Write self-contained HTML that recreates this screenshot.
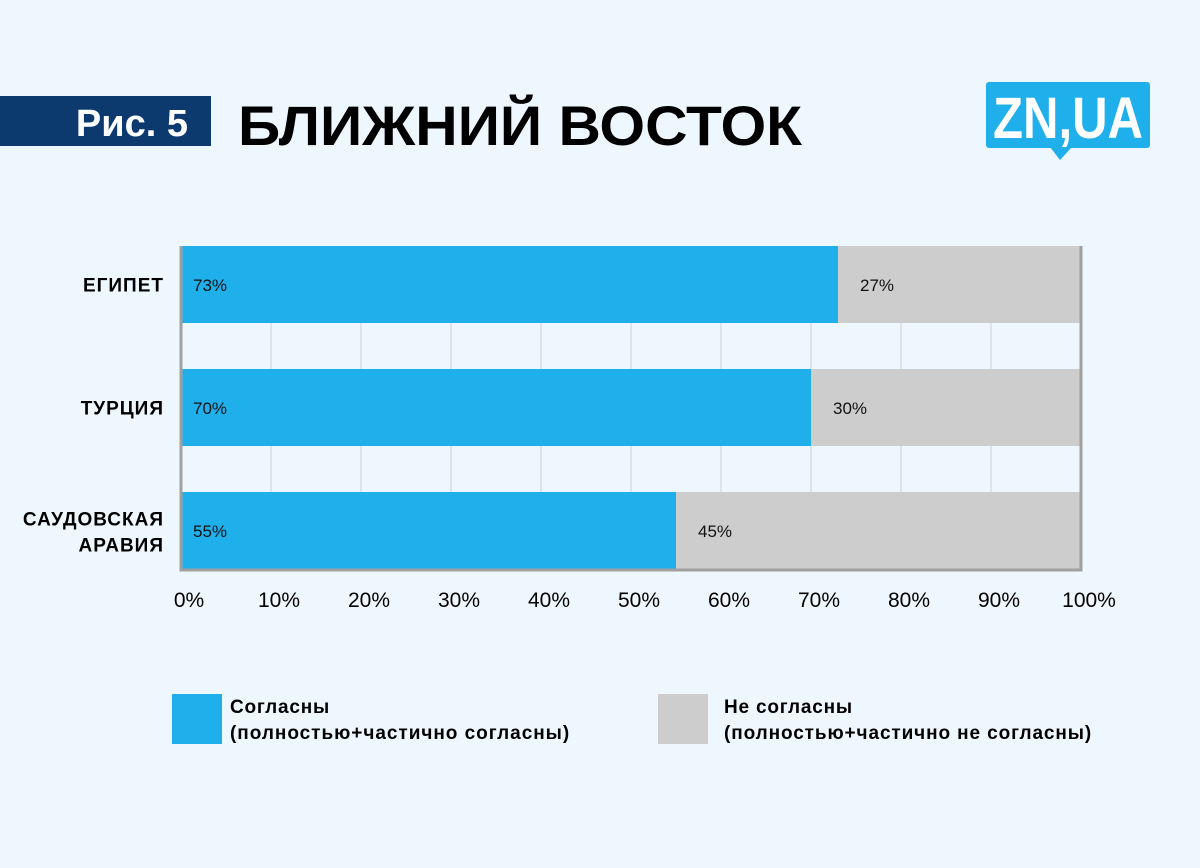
<!DOCTYPE html>
<html><head><meta charset="utf-8"><style>
body{margin:0;background:#eff7fe;font-family:"Liberation Sans","DejaVu Sans",sans-serif;}
#wrap{position:relative;width:1200px;height:868px;overflow:hidden;background:#eff7fe}
</style></head><body>
<div id="wrap">
<svg width="1200" height="868" id="svg">
<rect x="0" y="96" width="211" height="50" fill="#0d3a6e"/>
<text x="188" y="136" text-anchor="end" font-size="38" font-weight="bold" fill="#fff">Рис. 5</text>
<text x="238" y="145" font-size="56" font-weight="bold" fill="#000" textLength="564" lengthAdjust="spacingAndGlyphs">БЛИЖНИЙ ВОСТОК</text>
<g>
<rect x="986" y="82" width="164" height="66" rx="3" fill="#1fb0ec"/>
<polygon points="1050,147 1072,147 1060,160" fill="#1fb0ec"/>
<text x="1068" y="138" text-anchor="middle" font-size="58" font-weight="bold" fill="#fff" textLength="150" lengthAdjust="spacingAndGlyphs">ZN,UA</text>
</g>
<g id="grid"></g><g id="bars"></g><g id="axes"></g>
<g font-size="19" font-weight="bold" letter-spacing="0.8">
<rect x="172" y="694" width="50" height="50" fill="#1fb0ec"/>
<text x="230" y="713">Согласны</text>
<text x="230" y="739" textLength="340">(полностью+частично согласны)</text>
<rect x="658" y="694" width="50" height="50" fill="#cdcdcd"/>
<text x="724" y="713">Не согласны</text>
<text x="724" y="739" textLength="368">(полностью+частично не согласны)</text>
</g>
</svg>
</div>
<script>
const categories=[["ЕГИПЕТ"],["ТУРЦИЯ"],["САУДОВСКАЯ","АРАВИЯ"]];
const agree=[73,70,55];
const disagree=[27,30,45];
const ticks=[0,10,20,30,40,50,60,70,80,90,100];
const NS="http://www.w3.org/2000/svg";
const X0=181,X1=1081,top0=246,bh=77,step=123;
const x=v=>X0+(X1-X0)*v/100;
const y=i=>top0+i*step;
function mk(t,a,p){const e=document.createElementNS(NS,t);for(const k in a)e.setAttribute(k,a[k]);p.appendChild(e);return e;}
const grid=document.getElementById('grid'),bars=document.getElementById('bars'),axes=document.getElementById('axes');
ticks.forEach(t=>{
 if(t>0&&t<100){const l=mk('line',{x1:x(t),x2:x(t),y1:246,y2:570,stroke:'#dde3ea','stroke-width':2},grid);
 
 }
 const tx=mk('text',{x:x(t)+8,y:607,'text-anchor':'middle','font-size':21,fill:'#000'},axes);
 tx.textContent=t+'%';
 
 
});
categories.forEach((c,i)=>{
 const yy=y(i);
 const a=mk('rect',{x:x(0),y:yy,width:x(agree[i])-x(0),height:bh,fill:'#1fb0ec'},bars);
 
 
 const d=mk('rect',{x:x(agree[i]),y:yy,width:x(agree[i]+disagree[i])-x(agree[i]),height:bh,fill:'#cdcdcd'},bars);
 
 
 const la=mk('text',{x:x(0)+12,y:yy+45,'font-size':17,fill:'#111'},bars);la.textContent=agree[i]+'%';
 
 
 const ld=mk('text',{x:x(agree[i])+22,y:yy+45,'font-size':17,fill:'#111'},bars);ld.textContent=disagree[i]+'%';
 
 
 c.forEach((s,j)=>{const t=mk('text',{x:164,y:yy+bh/2+7-(c.length-1)*12+j*26,'text-anchor':'end','font-size':19,'font-weight':'bold','letter-spacing':1},axes);t.textContent=s;
 
 });
});
const ax=mk('path',{d:`M${X0} 246V570H${X1}V246`,stroke:'#a0a0a0','stroke-width':3,fill:'none'},axes);


</script>
</body></html>
